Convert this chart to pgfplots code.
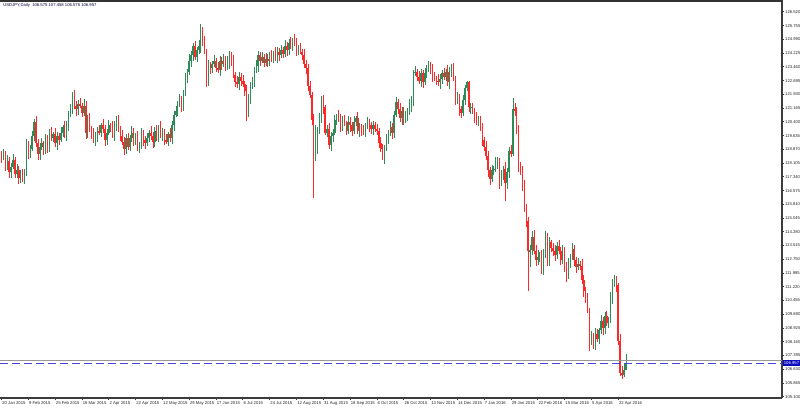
\documentclass[border=0pt]{standalone}
\usepackage{pgfplots}
\usepackage{pgfplotstable}
\pgfplotsset{compat=1.18}
\usepackage{fontspec}
\setmainfont{Liberation Sans}
\definecolor{bull}{RGB}{46,139,87}
\definecolor{bear}{RGB}{255,40,40}
\definecolor{bidblue}{RGB}{70,70,220}
\definecolor{boxblue}{RGB}{10,10,190}
\definecolor{frame}{RGB}{60,60,60}

\pgfplotstableread{
x o h l c
0 118.60 118.80 118.10 118.40
1 118.40 118.90 118.25 118.60
2 118.60 118.75 117.65 117.90
3 117.90 118.55 117.70 118.20
4 118.20 118.45 117.25 117.60
5 117.60 118.10 117.30 117.90
6 117.90 118.60 117.75 118.30
7 118.30 118.45 117.25 117.50
8 117.50 118.05 117.30 117.70
9 117.70 117.95 116.95 117.30
10 117.30 117.70 117.00 117.50
11 117.50 117.80 117.05 117.20
12 117.20 117.75 116.95 117.60
13 117.60 119.45 117.40 119.10
14 119.10 119.35 118.35 118.70
15 118.70 119.10 118.40 118.90
16 118.90 119.90 118.75 119.60
17 119.60 120.55 119.35 120.40
18 120.40 120.75 119.00 119.20
19 119.20 119.45 118.25 118.60
20 118.60 119.20 118.30 119.00
21 119.00 119.50 118.85 119.20
22 119.20 119.35 118.55 118.80
23 118.80 119.75 118.60 119.40
24 119.40 119.65 118.65 119.00
25 119.00 120.00 118.70 119.80
26 119.80 120.10 119.35 119.50
27 119.50 119.85 119.25 119.70
28 119.70 120.05 119.00 119.20
29 119.20 119.85 118.85 119.60
30 119.60 119.80 119.10 119.40
31 119.40 120.10 119.25 119.80
32 119.80 120.25 119.55 120.10
33 120.10 120.45 119.50 119.70
34 119.70 120.45 119.35 120.20
35 120.20 121.00 119.90 120.80
36 120.80 121.40 120.65 121.10
37 121.10 122.05 120.85 121.80
38 121.80 122.15 121.10 121.30
39 121.30 121.55 120.75 121.10
40 121.10 121.60 120.80 121.40
41 121.40 121.70 121.15 121.30
42 121.30 121.45 120.65 120.90
43 120.90 121.65 120.70 121.30
44 121.30 121.55 119.45 119.80
45 119.80 120.80 119.50 120.60
46 120.60 120.90 119.85 120.00
47 120.00 120.15 119.45 119.70
48 119.70 120.05 119.20 119.40
49 119.40 119.85 119.05 119.60
50 119.60 120.10 119.30 119.90
51 119.90 120.20 119.65 119.80
52 119.80 120.35 119.55 120.20
53 120.20 120.55 119.80 120.00
54 120.00 120.25 119.05 119.40
55 119.40 120.00 119.10 119.80
56 119.80 120.50 119.65 120.20
57 120.20 120.35 119.85 120.10
58 120.10 120.45 119.50 119.70
59 119.70 120.45 119.35 120.20
60 120.20 120.70 119.90 120.50
61 120.50 120.80 119.85 120.00
62 120.00 120.15 119.35 119.60
63 119.60 119.95 119.10 119.30
64 119.30 119.55 118.55 118.90
65 118.90 119.70 118.60 119.50
66 119.50 119.80 118.85 119.00
67 119.00 119.65 118.75 119.50
68 119.50 120.15 119.30 119.80
69 119.80 120.05 119.05 119.40
70 119.40 119.80 119.10 119.60
71 119.60 119.90 118.75 118.90
72 118.90 119.25 118.65 119.10
73 119.10 120.05 118.90 119.70
74 119.70 119.95 119.05 119.40
75 119.40 119.60 118.90 119.20
76 119.20 119.80 119.05 119.50
77 119.50 119.95 119.25 119.80
78 119.80 120.15 119.40 119.60
79 119.60 119.85 118.95 119.30
80 119.30 120.10 119.00 119.90
81 119.90 120.20 119.35 119.50
82 119.50 120.25 119.25 120.10
83 120.10 120.45 119.50 119.70
84 119.70 120.05 119.35 119.80
85 119.80 120.00 119.10 119.40
86 119.40 119.70 119.15 119.30
87 119.30 119.85 119.05 119.70
88 119.70 120.05 119.30 119.50
89 119.50 120.45 119.15 120.20
90 120.20 121.00 119.90 120.80
91 120.80 121.30 120.65 121.00
92 121.00 121.55 120.75 121.40
93 121.40 121.95 121.20 121.60
94 121.60 121.85 120.95 121.30
95 121.30 122.20 121.00 122.00
96 122.00 123.10 121.85 122.80
97 122.80 123.35 122.55 123.20
98 123.20 124.15 123.00 123.80
99 123.80 124.35 123.45 124.10
100 124.10 124.80 123.80 124.60
101 124.60 124.90 123.85 124.00
102 124.00 124.55 123.75 124.40
103 124.40 124.95 124.20 124.60
104 124.60 125.86 124.25 125.50
105 125.50 125.70 124.60 124.90
106 124.90 125.20 124.15 124.30
107 124.30 124.45 122.35 122.60
108 122.60 123.85 122.40 123.50
109 123.50 123.75 123.05 123.40
110 123.40 123.80 123.10 123.60
111 123.60 124.10 123.45 123.80
112 123.80 123.95 123.15 123.40
113 123.40 123.75 123.10 123.30
114 123.30 124.05 122.95 123.80
115 123.80 124.00 123.30 123.60
116 123.60 124.20 123.45 123.90
117 123.90 124.05 123.25 123.50
118 123.50 124.05 123.30 123.70
119 123.70 124.35 123.35 124.10
120 124.10 124.30 123.50 123.80
121 123.80 124.10 122.85 123.00
122 123.00 123.15 122.35 122.60
123 122.60 122.95 122.30 122.50
124 122.50 123.15 122.15 122.90
125 122.90 123.10 122.40 122.70
126 122.70 123.00 122.35 122.50
127 122.50 122.65 121.85 122.10
128 122.10 122.45 120.45 121.00
129 121.00 121.95 120.65 121.70
130 121.70 122.60 121.40 122.40
131 122.40 122.90 122.25 122.60
132 122.60 123.45 122.35 123.30
133 123.30 123.85 123.10 123.50
134 123.50 124.35 123.15 124.10
135 124.10 124.30 123.50 123.80
136 123.80 124.30 123.65 124.00
137 124.00 124.15 123.45 123.70
138 123.70 124.25 123.50 123.90
139 123.90 124.15 123.45 123.80
140 123.80 124.30 123.50 124.10
141 124.10 124.40 123.75 123.90
142 123.90 124.35 123.65 124.20
143 124.20 124.55 123.80 124.00
144 124.00 124.55 123.65 124.30
145 124.30 124.50 123.80 124.10
146 124.10 124.70 123.95 124.40
147 124.40 124.55 123.95 124.20
148 124.20 124.95 124.00 124.60
149 124.60 124.85 124.05 124.40
150 124.40 125.00 124.10 124.80
151 124.80 125.10 124.45 124.60
152 124.60 125.05 124.35 124.90
153 124.90 125.28 124.60 124.80
154 124.80 125.05 124.05 124.40
155 124.40 124.70 124.10 124.50
156 124.50 124.80 124.15 124.30
157 124.30 124.45 123.85 124.10
158 124.10 124.45 123.40 123.60
159 123.60 123.85 123.05 123.40
160 123.40 123.60 122.10 122.40
161 122.40 122.70 121.75 121.90
162 121.90 122.05 120.25 120.50
163 120.50 120.85 116.15 118.40
164 118.40 120.20 118.20 118.90
165 118.90 120.10 118.60 119.90
166 119.90 120.90 119.75 120.60
167 120.60 121.85 120.35 121.70
168 121.70 121.90 120.85 121.20
169 121.20 121.35 119.65 119.80
170 119.80 120.20 119.55 120.00
171 120.00 120.35 118.90 119.10
172 119.10 119.85 118.75 119.60
173 119.60 120.00 119.30 119.80
174 119.80 120.80 119.65 120.50
175 120.50 120.85 120.25 120.70
176 120.70 121.05 120.40 120.60
177 120.60 120.85 119.85 120.20
178 120.20 120.70 119.90 120.50
179 120.50 120.80 120.15 120.30
180 120.30 120.45 119.65 119.90
181 119.90 120.75 119.70 120.40
182 120.40 120.65 119.85 120.20
183 120.20 120.40 119.60 119.90
184 119.90 120.70 119.75 120.40
185 120.40 120.75 120.15 120.60
186 120.60 120.95 119.70 119.90
187 119.90 120.35 119.55 120.10
188 120.10 120.30 119.60 119.90
189 119.90 120.20 119.65 119.80
190 119.80 120.35 119.55 120.20
191 120.20 120.65 120.00 120.30
192 120.30 120.55 119.85 120.20
193 120.20 120.40 119.70 120.00
194 120.00 120.45 119.65 120.20
195 120.20 120.40 119.85 120.00
196 120.00 120.30 119.65 119.90
197 119.90 120.05 118.95 119.20
198 119.20 119.55 118.70 118.90
199 118.90 119.15 118.25 118.60
200 118.60 119.10 118.07 118.90
201 118.90 119.70 118.75 119.40
202 119.40 119.95 119.15 119.80
203 119.80 120.45 119.60 120.10
204 120.10 120.35 119.45 119.80
205 119.80 121.00 119.50 120.80
206 120.80 121.80 120.65 121.50
207 121.50 121.65 120.85 121.10
208 121.10 121.45 120.40 120.60
209 120.60 121.25 120.25 121.00
210 121.00 121.20 120.20 120.50
211 120.50 121.00 120.35 120.70
212 120.70 121.15 120.45 121.00
213 121.00 121.65 120.80 121.30
214 121.30 121.85 120.95 121.60
215 121.60 123.30 121.30 123.10
216 123.10 123.50 122.95 123.20
217 123.20 123.35 122.65 122.90
218 122.90 123.25 122.50 122.70
219 122.70 123.35 122.35 123.10
220 123.10 123.30 122.30 122.60
221 122.60 123.40 122.45 123.10
222 123.10 123.55 122.85 123.40
223 123.40 123.76 123.20 123.70
224 123.70 123.75 123.05 123.40
225 123.40 123.60 122.60 122.90
226 122.90 123.20 122.65 122.80
227 122.80 122.95 122.45 122.70
228 122.70 123.05 122.40 122.60
229 122.60 123.05 122.25 122.80
230 122.80 123.30 122.50 123.10
231 123.10 123.40 122.75 122.90
232 122.90 123.35 122.65 123.20
233 123.20 123.55 122.40 122.60
234 122.60 123.45 122.25 123.20
235 123.20 123.60 122.90 123.40
236 123.40 123.70 122.65 122.80
237 122.80 122.95 121.35 121.60
238 121.60 122.05 121.40 121.70
239 121.70 121.95 120.75 121.10
240 121.10 121.30 120.60 120.90
241 120.90 121.90 120.75 121.60
242 121.60 122.45 121.35 122.30
243 122.30 122.70 122.10 122.60
244 122.60 122.67 120.95 121.20
245 121.20 121.45 120.85 121.25
246 121.25 121.45 120.85 121.00
247 121.00 121.15 120.35 120.60
248 120.60 120.95 120.20 120.40
249 120.40 120.75 120.15 120.50
250 120.50 120.70 119.90 120.20
251 120.20 120.35 119.05 119.40
252 119.40 119.55 118.75 119.00
253 119.00 119.35 118.30 118.50
254 118.50 118.75 117.35 117.70
255 117.70 117.90 116.90 117.20
256 117.20 118.00 117.05 117.70
257 117.70 117.95 117.45 117.80
258 117.80 118.45 117.60 118.10
259 118.10 118.45 117.75 118.20
260 118.20 118.40 116.65 117.00
261 117.00 117.70 116.85 117.40
262 117.40 117.95 117.15 117.80
263 117.80 118.15 115.97 117.00
264 117.00 117.85 116.65 117.60
265 117.60 119.00 117.30 118.80
266 118.80 119.10 118.45 118.60
267 118.60 121.70 118.50 121.10
268 121.10 121.45 120.70 121.00
269 121.00 121.20 119.70 120.00
270 120.00 120.20 117.60 117.90
271 117.90 118.15 117.45 117.80
272 117.80 117.95 116.55 116.80
273 116.80 117.15 115.40 115.60
274 115.60 115.85 114.55 114.90
275 114.90 115.10 110.98 113.20
276 113.20 113.55 112.30 113.25
277 113.25 114.30 113.00 114.00
278 114.00 114.40 113.05 113.20
279 113.20 113.55 112.35 112.70
280 112.70 113.25 112.45 112.90
281 112.90 113.15 112.60 113.00
282 113.00 113.25 111.95 112.20
283 112.20 113.30 111.90 113.10
284 113.10 114.35 112.85 114.00
285 114.00 114.20 112.35 112.60
286 112.60 114.00 112.40 113.70
287 113.70 113.85 113.15 113.40
288 113.40 113.65 112.95 113.20
289 113.20 113.55 112.65 113.00
290 113.00 113.70 112.75 113.50
291 113.50 113.80 113.05 113.20
292 113.20 113.45 112.45 112.70
293 112.70 113.55 112.50 113.20
294 113.20 113.45 112.05 112.40
295 112.40 112.60 111.50 111.80
296 111.80 112.80 111.65 112.50
297 112.50 113.05 112.25 112.90
298 112.90 113.65 112.70 113.30
299 113.30 113.55 112.35 112.70
300 112.70 112.90 112.00 112.30
301 112.30 112.80 112.15 112.50
302 112.50 112.65 112.15 112.40
303 112.40 112.75 111.40 111.60
304 111.60 111.85 110.65 111.00
305 111.00 111.20 110.30 110.60
306 110.60 110.90 109.75 109.90
307 109.90 110.05 107.63 108.20
308 108.20 108.75 108.00 108.40
309 108.40 108.65 107.75 108.00
310 108.00 108.90 107.70 108.60
311 108.60 108.85 108.15 108.30
312 108.30 108.95 108.05 108.80
313 108.80 109.65 108.60 109.30
314 109.30 109.55 108.55 108.90
315 108.90 109.80 108.60 109.60
316 109.60 109.90 109.05 109.20
317 109.20 109.55 108.95 109.40
318 109.40 110.95 109.20 110.60
319 110.60 111.65 110.25 111.40
320 111.40 111.88 111.20 111.60
321 111.60 111.80 110.95 111.30
322 111.30 111.45 108.00 108.20
323 108.20 108.60 106.25 106.40
324 106.40 106.80 106.10 106.30
325 106.30 106.90 106.20 106.575
326 106.575 107.458 106.575 106.957
}\candles

\begin{document}
\begin{tikzpicture}
\path[use as bounding box] (0,0) rectangle (400pt,-204pt);
\begin{axis}[
  at={(0,0)}, anchor=north west,
  scale only axis, width=391pt, height=199pt,
  xmin=-0.8, xmax=407.5, ymin=105.03, ymax=127.18,
  axis x line*=bottom, axis y line*=right,
  axis line style={draw=frame, line width=0.6pt, -},
  tick align=outside, major tick length=1.2pt,
  tick style={draw=frame, line width=0.4pt},
  xtick={0,14,...,322},
  xticklabels={20 Jan 2015, 9 Feb 2015, 25 Feb 2015, 16 Mar 2015, 2 Apr 2015, 22 Apr 2015, 12 May 2015, 29 May 2015, 17 Jun 2015, 6 Jul 2015, 24 Jul 2015, 12 Aug 2015, 31 Aug 2015, 18 Sep 2015, 6 Oct 2015, 26 Oct 2015, 13 Nov 2015, 14 Dec 2015, 7 Jan 2016, 29 Jan 2016, 22 Feb 2016, 15 Mar 2016, 5 Apr 2016, 22 Apr 2016},
  xticklabel style={anchor=north west, font=\fontsize{2.1}{2.5}\selectfont, text=black!85, inner sep=0pt, yshift=-0.4pt, xshift=0.2pt},
  ytick={105.100,105.865,106.630,107.395,108.160,108.925,109.690,110.455,111.220,111.985,112.750,113.515,114.280,115.045,115.810,116.575,117.340,118.105,118.870,119.635,120.400,121.165,121.930,122.695,123.460,124.225,124.990,125.755,126.520},
  yticklabel style={anchor=west, font=\fontsize{2.1}{2.5}\selectfont, text=black!85, inner sep=0pt, xshift=0.2pt,
    /pgf/number format/.cd, fixed, fixed zerofill, precision=3, 1000 sep={}, assume math mode=true},
  clip=true,
]
% wicks
\addplot[draw=none, mark=none, restrict expr to domain={\thisrow{c}-\thisrow{o}}{0:100},
  error bars/.cd, y dir=both, y explicit, error mark=none,
  error bar style={line width=0.3pt, draw=bull, solid}]
  table[x=x, y expr={(\thisrow{h}+\thisrow{l})/2}, y error expr={(\thisrow{h}-\thisrow{l})/2}] {\candles};
\addplot[draw=none, mark=none, restrict expr to domain={\thisrow{c}-\thisrow{o}}{-100:-0.0001},
  error bars/.cd, y dir=both, y explicit, error mark=none,
  error bar style={line width=0.3pt, draw=bear, solid}]
  table[x=x, y expr={(\thisrow{h}+\thisrow{l})/2}, y error expr={(\thisrow{h}-\thisrow{l})/2}] {\candles};
% bodies
\addplot[draw=none, mark=none, restrict expr to domain={\thisrow{c}-\thisrow{o}}{0:100},
  error bars/.cd, y dir=both, y explicit, error mark=none,
  error bar style={line width=0.75pt, draw=bull, solid}]
  table[x=x, y expr={(\thisrow{o}+\thisrow{c})/2}, y error expr={abs(\thisrow{c}-\thisrow{o})/2}] {\candles};
\addplot[draw=none, mark=none, restrict expr to domain={\thisrow{c}-\thisrow{o}}{-100:-0.0001},
  error bars/.cd, y dir=both, y explicit, error mark=none,
  error bar style={line width=0.75pt, draw=bear, solid}]
  table[x=x, y expr={(\thisrow{o}+\thisrow{c})/2}, y error expr={abs(\thisrow{c}-\thisrow{o})/2}] {\candles};
% price lines
\draw[draw=black!40, line width=0.5pt] (axis cs:-0.8,107.10) -- (axis cs:407.5,107.10);
\draw[draw=bidblue, line width=0.5pt, dash pattern=on 4pt off 2pt] (axis cs:-0.8,106.957) -- (axis cs:407.5,106.957);
% top frame
\draw[draw=black!80, line width=2pt] (rel axis cs:0,1) -- (rel axis cs:1,1);
\end{axis}
\node[anchor=north west, inner sep=0pt, font=\fontsize{2.1}{2.5}\selectfont, text=black!80!blue] at (1.5pt,-1.6pt) {USDJPY,Daily\ \ 106.575 107.458 106.575 106.957};
\node[anchor=west, inner sep=0.3pt, fill=boxblue, text=white, font=\fontsize{2.1}{2.5}\selectfont, minimum width=8.5pt, minimum height=3pt] at (391.3pt,{-199pt+199pt*(106.957-105.03)/(127.18-105.03)}) {106.957};
\end{tikzpicture}
\end{document}
